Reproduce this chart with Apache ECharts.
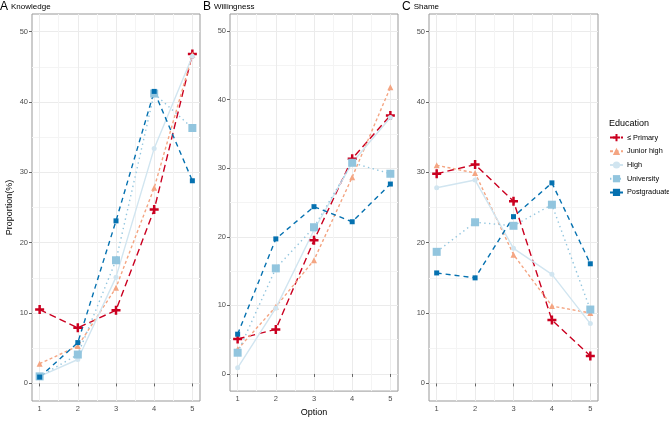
<!DOCTYPE html>
<html>
<head>
<meta charset="utf-8">
<script src="https://cdn.jsdelivr.net/npm/echarts@6/dist/echarts.min.js"></script>
<style>
html, body {margin: 0; padding: 0; background: #fff;}
#main {width: 669px; height: 422px;}
</style>
</head>
<body>
<div id="main"></div>
<script>
// 数据
var options = [1, 2, 3, 4, 5];
var groups = ['≤ Primary', 'Junior high', 'High', 'University', 'Postgraduate'];
var panelTitles = ['A', 'B', 'C'];
var panelNames = ['Knowledge', 'Willingness', 'Shame'];

var knowPrimary = [10.5, 7.9, 10.4, 24.7, 46.8];
var knowJunior  = [2.8, 5.3, 13.6, 27.8, 46.7];
var knowHigh    = [1.0, 3.4, 15.1, 33.4, 46.5];
var knowUniv    = [1.0, 4.1, 17.5, 41.2, 36.3];
var knowPost    = [0.9, 5.8, 23.1, 41.5, 28.8];

var willPrimary = [5.1, 6.5, 19.5, 31.4, 37.7];
var willJunior  = [3.6, 9.8, 16.6, 28.7, 41.8];
var willHigh    = [0.9, 9.6, 21.0, 30.8, 37.4];
var willUniv    = [3.1, 15.4, 21.4, 30.8, 29.2];
var willPost    = [5.8, 19.7, 24.4, 22.2, 27.7];

var shamePrimary = [29.8, 31.1, 25.9, 9.0, 3.9];
var shameJunior  = [31.0, 29.9, 18.3, 11.0, 10.0];
var shameHigh    = [27.8, 28.9, 19.2, 15.5, 8.5];
var shameUniv    = [18.7, 22.9, 22.4, 25.4, 10.5];
var shamePost    = [15.7, 15.0, 23.7, 28.5, 17.0];

var yTicks = [0, 10, 20, 30, 40, 50];
var yGrid = [0, 5, 10, 15, 20, 25, 30, 35, 40, 45, 50];
var xGrid = [1, 1.5, 2, 2.5, 3, 3.5, 4, 4.5, 5];

var panelData = [
    [knowPrimary, knowJunior, knowHigh, knowUniv, knowPost],
    [willPrimary, willJunior, willHigh, willUniv, willPost],
    [shamePrimary, shameJunior, shameHigh, shameUniv, shamePost]
];

// 样式
var font = 'Liberation Sans';
var plusPath = 'path://M-1.1,-4L1.1,-4L1.1,-1.1L4,-1.1L4,1.1L1.1,1.1L1.1,4L-1.1,4L-1.1,1.1L-4,1.1L-4,-1.1L-1.1,-1.1Z';
var styles = [
    {color: '#ca0020', dash: [7, 4], symbol: plusPath, size: 9},
    {color: '#f4a582', dash: [3, 2.5], symbol: 'triangle', size: 6},
    {color: '#d1e5f0', dash: 'solid', symbol: 'circle', size: 5},
    {color: '#92c5de', dash: [1.4, 3.4], symbol: 'rect', size: 8},
    {color: '#0571b0', dash: [5, 4], symbol: 'rect', size: 5}
];
var panelLeft = [32, 230, 429];
var panelWidth = [168, 168, 169];
var titleLeft = [0, 203, 402];

var grids = [], xAxes = [], yAxes = [], series = [], titles = [];

for (var p = 0; p < 3; p++) {
    grids.push({left: panelLeft[p], top: 14, width: panelWidth[p], height: 387,
        show: true, borderColor: '#999', borderWidth: 1, backgroundColor: '#fff'});

    // 网格线用的主轴
    xAxes.push({type: 'value', gridIndex: p, min: 0.8, max: 5.2,
        axisLine: {show: false}, axisLabel: {show: false},
        axisTick: {show: false, customValues: xGrid},
        splitLine: {show: true, lineStyle: {color: ['#ebebeb', '#f4f4f4'], width: 1}}});
    yAxes.push({type: 'value', gridIndex: p, min: -2.5, max: 52.5,
        axisLine: {show: false}, axisLabel: {show: false},
        axisTick: {show: false, customValues: yGrid},
        splitLine: {show: true, lineStyle: {color: ['#ebebeb', '#f4f4f4'], width: 1}}});

    // 刻度和标签用的副轴
    xAxes.push({type: 'value', gridIndex: p, min: 0.8, max: 5.2, position: 'bottom',
        axisLine: {show: false}, splitLine: {show: false},
        axisTick: {show: true, length: 3, customValues: options, lineStyle: {color: '#666'}},
        axisLabel: {customValues: options, fontSize: 7.5, color: '#4d4d4d', margin: 4, fontFamily: font},
        name: p == 1 ? 'Option' : '', nameLocation: 'middle', nameGap: 11,
        nameTextStyle: {fontSize: 9, color: '#000', fontFamily: font, verticalAlign: 'top'}});
    yAxes.push({type: 'value', gridIndex: p, min: -2.5, max: 52.5, position: 'left',
        axisLine: {show: false}, splitLine: {show: false},
        axisTick: {show: true, length: 3, customValues: yTicks, lineStyle: {color: '#666'}},
        axisLabel: {customValues: yTicks, fontSize: 7.5, color: '#4d4d4d', margin: 4, fontFamily: font},
        name: p == 0 ? 'Proportion(%)' : '', nameLocation: 'middle', nameGap: 18,
        nameTextStyle: {fontSize: 9, color: '#000', fontFamily: font}});

    titles.push({text: '{a|' + panelTitles[p] + '}{b|' + panelNames[p] + '}',
        left: titleLeft[p], top: 1, padding: 0,
        textStyle: {fontWeight: 'normal', rich: {
            a: {fontSize: 12, color: '#000', fontFamily: font, fontWeight: 'normal', padding: [0, 3, 0, 0]},
            b: {fontSize: 8, color: '#000', fontFamily: font, fontWeight: 'normal'}
        }}});

    for (var g = 0; g < groups.length; g++) {
        var vals = panelData[p][g];
        var pts = [];
        for (var k = 0; k < options.length; k++) {
            pts.push([options[k], vals[k]]);
        }
        series.push({
            name: groups[g], type: 'line', xAxisIndex: p * 2, yAxisIndex: p * 2,
            data: pts, symbol: styles[g].symbol, symbolSize: styles[g].size,
            showAllSymbol: true, animation: false,
            lineStyle: {color: styles[g].color, width: 1.4, type: styles[g].dash},
            itemStyle: {color: styles[g].color}
        });
    }
}

titles.push({text: 'Education', left: 609, top: 119, padding: 0,
    textStyle: {fontSize: 9, fontWeight: 'normal', color: '#000', fontFamily: font}});

var myChart = echarts.init(document.getElementById('main'));
option = {
    animation: false,
    title: titles,
    legend: {orient: 'vertical', left: 609, top: 134, padding: 0, itemWidth: 13, itemHeight: 9, itemGap: 6.5,
        data: groups, textStyle: {fontSize: 7.3, color: '#000', fontFamily: font, padding: [0, 0, 0, -1]}},
    grid: grids,
    xAxis: xAxes,
    yAxis: yAxes,
    series: series
};
myChart.setOption(option);
</script>
</body>
</html>
